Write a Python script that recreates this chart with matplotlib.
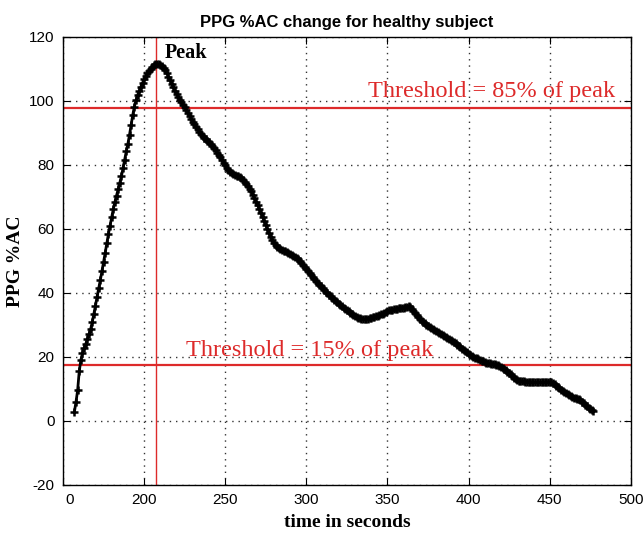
import numpy as np
import matplotlib
matplotlib.use("Agg")
import matplotlib.pyplot as plt
from matplotlib.transforms import ScaledTranslation

plt.rcParams['axes.unicode_minus'] = False

# PPG %AC 變化曲線（健康受試者），每秒一個取樣點
t_start = 157
ppg_ac = [
    2.8, 5.9, 9.5, 15.5, 19.0, 21.2, 22.8, 24.0, 25.5, 27.0,
    28.6, 30.8, 33.4, 36.0, 38.8, 41.4, 44.0, 46.8, 49.6, 52.6,
    55.6, 58.4, 61.0, 63.6, 66.2, 68.4, 70.4, 72.4, 74.4, 76.4,
    79.0, 81.6, 84.2, 86.6, 89.4, 92.6, 95.6, 98.2, 100.2, 101.8,
    103.1, 104.4, 105.6, 106.7, 107.7, 108.6, 109.4, 110.1, 110.7, 111.2,
    111.5, 111.6, 111.5, 111.2, 110.8, 110.3, 109.6, 108.7, 107.6, 106.5,
    105.4, 104.3, 103.2, 102.2, 101.2, 100.4, 99.6, 98.8, 98.0, 97.1,
    96.2, 95.3, 94.4, 93.5, 92.7, 91.9, 91.1, 90.4, 89.7, 89.0,
    88.5, 88.0, 87.5, 87.0, 86.5, 85.9, 85.2, 84.5, 83.8, 83.1,
    82.3, 81.5, 80.7, 79.9, 79.1, 78.4, 77.8, 77.4, 77.1, 76.8,
    76.6, 76.4, 76.1, 75.8, 75.3, 74.7, 74.0, 73.3, 72.6, 71.7,
    70.7, 69.6, 68.5, 67.4, 66.2, 65.0, 63.7, 62.5, 61.2, 59.9,
    58.6, 57.4, 56.4, 55.5, 54.9, 54.4, 54.0, 53.7, 53.4, 53.2,
    53.0, 52.8, 52.5, 52.2, 51.9, 51.6, 51.3, 50.9, 50.5, 50.0,
    49.4, 48.8, 48.2, 47.6, 46.9, 46.2, 45.5, 44.9, 44.3, 43.7,
    43.2, 42.6, 42.1, 41.5, 41.0, 40.4, 39.9, 39.4, 38.9, 38.4,
    37.9, 37.4, 37.0, 36.6, 36.2, 35.8, 35.4, 35.0, 34.6, 34.2,
    33.8, 33.4, 33.1, 32.8, 32.5, 32.3, 32.1, 31.9, 31.8, 31.7,
    31.8, 31.9, 32.1, 32.3, 32.4, 32.6, 32.7, 32.9, 33.1, 33.3,
    33.5, 33.8, 34.0, 34.3, 34.5, 34.6, 34.8, 34.9, 35.0, 35.1,
    35.2, 35.3, 35.4, 35.4, 35.5, 35.6, 35.8, 35.6, 35.0, 34.3,
    33.6, 33.0, 32.4, 31.8, 31.3, 30.9, 30.5, 30.1, 29.7, 29.3,
    29.0, 28.7, 28.4, 28.0, 27.7, 27.4, 27.1, 26.8, 26.5, 26.2,
    25.9, 25.6, 25.3, 25.0, 24.6, 24.2, 23.8, 23.4, 23.0, 22.6,
    22.2, 21.8, 21.4, 21.0, 20.6, 20.3, 20.0, 19.8, 19.5, 19.3,
    19.0, 18.8, 18.6, 18.4, 18.2, 18.1, 18.0, 17.9, 17.8, 17.7,
    17.6, 17.4, 17.2, 16.9, 16.6, 16.2, 15.8, 15.4, 15.0, 14.5,
    14.0, 13.5, 13.1, 12.8, 12.6, 12.5, 12.4, 12.4, 12.3, 12.3,
    12.2, 12.2, 12.1, 12.1, 12.0, 12.0, 12.0, 12.0, 12.0, 12.0,
    12.1, 12.1, 12.2, 12.2, 12.1, 11.8, 11.4, 11.0, 10.6, 10.2,
    9.8, 9.4, 9.0, 8.6, 8.3, 8.0, 7.7, 7.5, 7.3, 7.1,
    6.9, 6.7, 6.4, 6.0, 5.5, 5.0, 4.5, 4.1, 3.7, 3.3,
    3.0,
]
time_s = np.arange(t_start, t_start + len(ppg_ac))

# 峰值時間與兩條門檻線
peak_time = 207.5
threshold_hi = 97.8
threshold_lo = 17.5

x_ticks = [150, 200, 250, 300, 350, 400, 450, 500]
x_tick_labels = ["0", "200", "250", "300", "350", "400", "450", "500"]
y_ticks = [-20, 0, 20, 40, 60, 80, 100, 120]

RED = "#dd2a2a"
SERIF = ["Liberation Serif", "DejaVu Serif"]
SANS = ["Liberation Sans", "DejaVu Sans"]

fig = plt.figure(figsize=(6.43, 5.34), dpi=100)
ax = fig.add_axes([0.098, 0.092, 0.883, 0.839])

ax.plot(time_s, ppg_ac, color="black", lw=2.0, marker="+",
        markersize=6, markeredgewidth=1.8, zorder=3)

# 門檻線與峰值位置
ax.axhline(threshold_hi, color=RED, lw=1.6, zorder=2)
ax.axhline(threshold_lo, color=RED, lw=1.6, zorder=2)
ax.axvline(peak_time, color=RED, lw=1.0, zorder=2)

ax.text(414, threshold_hi + 1.8, "Threshold = 85% of peak", color=RED,
        family=SERIF, fontsize=17.5, ha="center", va="bottom")
ax.text(302, threshold_lo + 1.2, "Threshold = 15% of peak", color=RED,
        family=SERIF, fontsize=17.5, ha="center", va="bottom")
ax.text(226, 118.0, "Peak", family=SERIF, fontsize=14.5,
        fontweight="bold", ha="center", va="top")

ax.set_xlim(150, 500)
ax.set_ylim(-20, 120)
ax.set_xticks(x_ticks)
ax.set_xticklabels(x_tick_labels)
ax.set_yticks(y_ticks)

ax.grid(True, color="#333333", linestyle=(0, (1, 3.5)), lw=1.0)
ax.tick_params(direction="in", top=True, right=True, length=5,
               labelsize=11, pad=6)
for lbl in ax.get_xticklabels() + ax.get_yticklabels():
    lbl.set_family(SANS)
# 第一個刻度標籤稍微往右移
first = ax.get_xticklabels()[0]
first.set_transform(first.get_transform()
                    + ScaledTranslation(0.07, 0, fig.dpi_scale_trans))
for sp in ax.spines.values():
    sp.set_linewidth(1.0)

ax.set_title("PPG %AC change for healthy subject", family=SANS,
             fontsize=12, fontweight="bold", pad=7)
ax.set_xlabel("time in seconds", family=SERIF, fontsize=14,
              fontweight="bold", labelpad=5)
ax.set_ylabel("PPG %AC", family=SERIF, fontsize=14,
              fontweight="bold", labelpad=4)

fig.savefig("out.png", dpi=100)
